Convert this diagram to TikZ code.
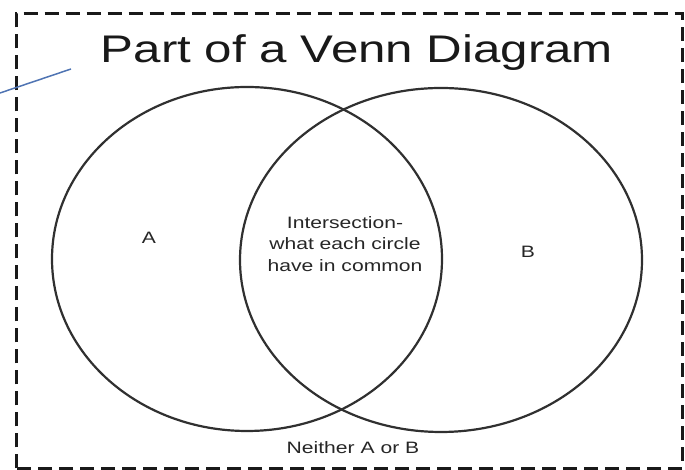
\documentclass[tikz,border=0pt]{standalone}
\usepackage{fontspec}
\setmainfont{Liberation Sans}
\usetikzlibrary{shapes.geometric}
\definecolor{pointerblue}{HTML}{4F74B3}
\definecolor{ringgrey}{HTML}{303030}
\newcommand{\widetxt}[1]{\scalebox{1.28}[1]{#1}}

\begin{document}
\begin{tikzpicture}[x=1pt, y=1pt,
  ring/.style={draw=ringgrey, line width=2.2pt, ellipse, inner sep=0pt},
  tag/.style={inner sep=0pt, text=black!85, font=\fontsize{16.5}{21.5}\selectfont, align=center},
  frame/.style={draw=black!90, line width=3pt, dash pattern=on 14pt off 7pt}
]
  \useasboundingbox (0,0) rectangle (685,470);
  \draw[frame] (16,1.5) rectangle (682,456);

  % the two sets
  \node[ring, minimum width=390pt, minimum height=344pt] (setA) at (247,211) {};
  \node[ring, minimum width=402pt, minimum height=344pt] (setB) at (441,210) {};

  \node[anchor=base, inner sep=0pt, text=black!90, font=\fontsize{38.5}{42}\selectfont] (title) at (357,407) {\widetxt{Part of a Venn Diagram}};
  \node[tag] (labA) at (149,232) {\widetxt{A}};
  \node[tag] (labB) at (528,218) {\widetxt{B}};
  \node[tag] (common) at (345,226) {\widetxt{Intersection-}\\\widetxt{what each circle}\\\widetxt{have in common}};
  \node[tag] (neither) at (353,22) {\widetxt{Neither A or B}};

  % pointer
  \coordinate (ptrS) at (0,377);
  \coordinate (ptrE) at (71,401);
  \draw[pointerblue, line width=1.5pt] (ptrS) -- (ptrE);
\end{tikzpicture}
\end{document}
